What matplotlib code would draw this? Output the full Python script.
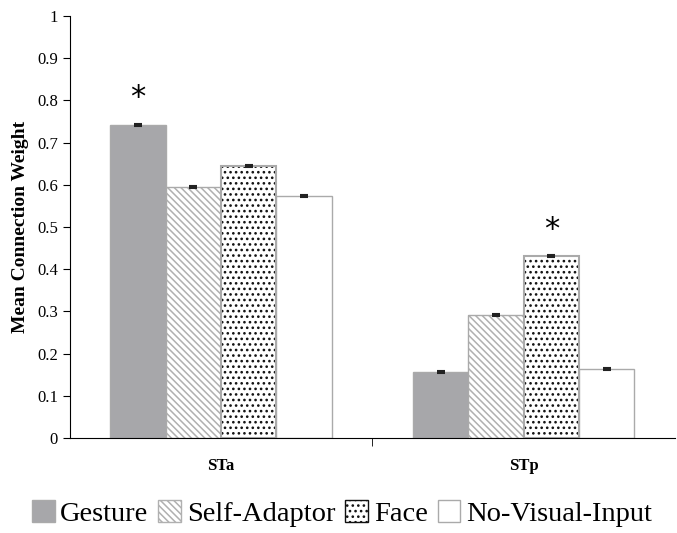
import numpy as np
import matplotlib.pyplot as plt
from matplotlib.patches import Patch

regions = ['STa', 'STp']
conditions = ['Gesture', 'Self-Adaptor', 'Face', 'No-Visual-Input']
gesture = [0.742, 0.157]
self_adaptor = [0.595, 0.292]
face = [0.645, 0.431]
no_visual = [0.574, 0.163]
errs = [0.002, 0.002]

plt.rcParams['font.family'] = ['Liberation Serif', 'DejaVu Serif']
plt.rcParams['hatch.linewidth'] = 1.1

fig = plt.figure(figsize=(6.77, 5.33), dpi=100)
ax = fig.add_axes([0.103, 0.178, 0.894, 0.792])

x = np.arange(len(regions))
w = 0.183
offs = [-1.5 * w, -0.5 * w, 0.5 * w, 1.5 * w]
edge = '#aaaaaa'
lines_hatch = '\\' * 5
dots_hatch = '...'

ax.bar(x + offs[0], gesture, w, color='#a7a7aa', edgecolor=edge, linewidth=1)
ax.bar(x + offs[1], self_adaptor, w, color='white', edgecolor='#b0b0b0', hatch=lines_hatch, linewidth=0)
ax.bar(x + offs[1], self_adaptor, w, fill=False, edgecolor=edge, linewidth=1)
ax.bar(x + offs[2], face, w, color='white', edgecolor='#111111', hatch=dots_hatch, linewidth=0)
ax.bar(x + offs[2], face, w, fill=False, edgecolor=edge, linewidth=1.5)
ax.bar(x + offs[3], no_visual, w, color='white', edgecolor=edge, linewidth=1)

for o, vals in zip(offs, [gesture, self_adaptor, face, no_visual]):
    ax.errorbar(x + o, vals, yerr=errs, fmt='none', ecolor='#222222',
                capsize=3, elinewidth=1, capthick=1.5)

# significance stars
ax.text(x[0] + offs[0], gesture[0] + 0.03, '*', ha='center', va='bottom',
        fontsize=22, family='DejaVu Sans')
ax.text(x[1] + offs[2], face[1] + 0.03, '*', ha='center', va='bottom',
        fontsize=22, family='DejaVu Sans')

ax.set_xlim(-0.5, 1.5)
ax.set_ylim(0, 1)
ax.set_yticks(np.arange(0, 1.01, 0.1))
ax.set_yticklabels(['0'] + ['%.1f' % v for v in np.arange(0.1, 0.95, 0.1)] + ['1'], fontsize=12)
ax.set_xticks(x)
ax.set_xticklabels(regions, fontsize=12, fontweight='bold')
ax.set_xticks([0.5], minor=True)
ax.tick_params(axis='x', which='major', length=0, pad=14)
ax.tick_params(axis='x', which='minor', length=6, direction='out')
ax.tick_params(axis='y', length=5, direction='out')
ax.spines['top'].set_visible(False)
ax.spines['right'].set_visible(False)
ax.set_ylabel('Mean Connection Weight', fontsize=14, fontweight='bold', labelpad=6)

handles = [Patch(facecolor='#a7a7aa', edgecolor=edge),
           Patch(facecolor='white', edgecolor='#b0b0b0', hatch=lines_hatch),
           Patch(facecolor='white', edgecolor='#111111', hatch=dots_hatch),
           Patch(facecolor='white', edgecolor=edge)]
fig.legend(handles, conditions, loc='lower center', ncol=4, frameon=False,
           fontsize=20.5, handlelength=0.8, handleheight=0.8, handletextpad=0.2,
           columnspacing=0.35, bbox_to_anchor=(0.505, -0.02), borderaxespad=0.2)

fig.savefig('out.png', dpi=100)
